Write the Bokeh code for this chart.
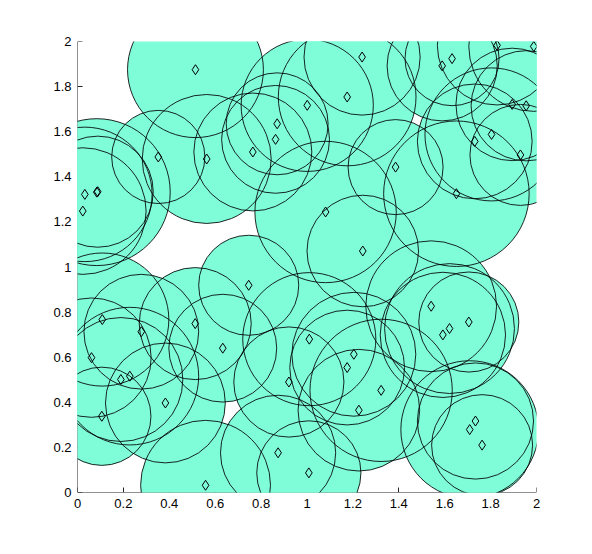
from bokeh.plotting import figure
from bokeh.models import (Range1d, FixedTicker, PrintfTickFormatter, ColumnDataSource,
                          LinearAxis, CustomLabelingPolicy)
from bokeh.embed import file_html
from bokeh.resources import INLINE

# circle centres (x, y) and radii
cx = [0.514, 1.240, 1.175, 1.001, 1.589, 1.632, 1.828, 1.988, 1.894, 1.955,
      1.731, 1.804, 1.930, 1.386, 1.651, 1.081, 1.243, 0.870, 0.863, 0.764,
      0.563, 0.352, 0.032, 0.084, 0.088, 0.023, 0.746, 0.108, 0.278, 0.513,
      0.633, 0.061, 0.189, 0.228, 0.383, 0.106, 0.921, 1.010, 0.874, 1.008,
      0.558, 1.541, 1.705, 1.621, 1.592, 1.204, 1.175, 1.323, 1.226, 1.734,
      1.709, 1.763]
cy = [1.875, 1.931, 1.754, 1.717, 1.892, 1.924, 1.983, 1.978, 1.721, 1.715,
      1.557, 1.588, 1.497, 1.443, 1.325, 1.244, 1.071, 1.635, 1.566, 1.510,
      1.479, 1.488, 1.322, 1.332, 1.334, 1.248, 0.919, 0.767, 0.713, 0.749,
      0.640, 0.598, 0.501, 0.516, 0.397, 0.338, 0.490, 0.680, 0.176, 0.087,
      0.032, 0.826, 0.756, 0.727, 0.699, 0.613, 0.554, 0.453, 0.365, 0.317,
      0.279, 0.210]
rad = [0.296, 0.253, 0.300, 0.288, 0.240, 0.205, 0.260, 0.283, 0.245, 0.240,
       0.250, 0.290, 0.220, 0.207, 0.317, 0.308, 0.243, 0.222, 0.235, 0.257,
       0.281, 0.203, 0.293, 0.320, 0.242, 0.276, 0.218, 0.290, 0.250, 0.244,
       0.235, 0.260, 0.270, 0.300, 0.261, 0.214, 0.240, 0.290, 0.251, 0.227,
       0.283, 0.285, 0.218, 0.283, 0.273, 0.270, 0.250, 0.310, 0.265, 0.253,
       0.300, 0.220]
ticks = [0, 0.2, 0.4, 0.6, 0.8, 1, 1.2, 1.4, 1.6, 1.8, 2]

src = ColumnDataSource(dict(x=cx, y=cy, r=rad))

p = figure(frame_width=459, frame_height=451, output_backend="svg",
           toolbar_location=None, x_range=Range1d(0, 2), y_range=Range1d(0, 2),
           min_border_left=77, min_border_top=41, min_border_right=30,
           min_border_bottom=30)
p.outline_line_color = None
p.grid.visible = False
p.background_fill_color = "white"

no_labels = CustomLabelingPolicy(code="return new Set()")

# axis lines and inward ticks, drawn beneath the circles (no labels here)
for ax in (p.xaxis[0], p.yaxis[0]):
    ax.ticker = FixedTicker(ticks=ticks)
    ax.major_tick_in = 5
    ax.major_tick_out = 0
    ax.minor_tick_line_color = None
    ax.axis_line_color = "#222222"
    ax.major_tick_line_color = "#222222"
    ax.major_label_text_font_size = "0px"
    ax.major_label_standoff = 0
    ax.major_label_policy = no_labels
    ax.level = "underlay"

# tick labels
for side in ("below", "left"):
    lab = LinearAxis(ticker=FixedTicker(ticks=ticks),
                     formatter=PrintfTickFormatter(format="%g"),
                     axis_line_color=None, major_tick_line_color=None,
                     minor_tick_line_color=None, major_tick_in=0,
                     major_tick_out=0, major_label_standoff=6,
                     major_label_text_font="Liberation Sans",
                     major_label_text_font_size="13px",
                     major_label_text_color="black")
    p.add_layout(lab, side)

p.circle("x", "y", radius="r", source=src, fill_color="#7FFDD9",
         line_color=None)
p.circle("x", "y", radius="r", source=src, fill_color=None,
         line_color="black", line_width=1, line_alpha=0.85)
p.scatter("x", "y", source=src, marker="diamond", size=10,
          fill_color=None, line_color="black", line_width=1)

open("out.html", "w").write(file_html(p, INLINE))
